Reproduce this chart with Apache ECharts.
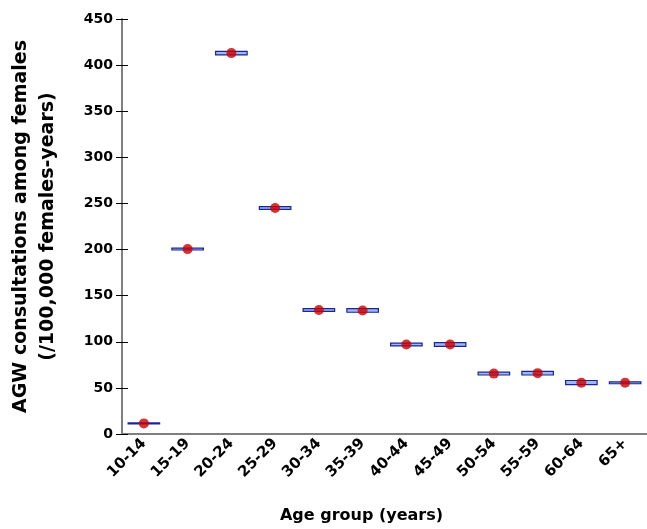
<!DOCTYPE html>
<html>
<head>
<meta charset="utf-8">
<script src="https://cdn.jsdelivr.net/npm/echarts@6/dist/echarts.min.js"></script>
<style>
  html, body { margin: 0; padding: 0; background: #fff; }
  #chart { width: 647px; height: 529px; }
</style>
</head>
<body>
<div id="chart"></div>
<script>
// age groups on the x axis
var ageGroups = ['10-14', '15-19', '20-24', '25-29', '30-34', '35-39',
                 '40-44', '45-49', '50-54', '55-59', '60-64', '65+'];
// consultation rate per 100,000 female-years
var rates  = [11.5, 200.5, 413, 245, 134.5, 134, 97, 97, 65.5, 66, 55.5, 55.5];
// confidence interval (low / high)
var ciLow  = [11, 199.5, 411, 243.5, 133, 132, 95.5, 95, 64, 64, 53.5, 54.5];
var ciHigh = [12, 201.5, 415, 246.5, 136, 136, 98.5, 99, 67, 68, 58, 56.5];

var font = 'DejaVu Sans';

var chart = echarts.init(document.getElementById('chart'));

var boxData = ageGroups.map(function (g, i) { return [i, ciLow[i], ciHigh[i]]; });
var dotData = ageGroups.map(function (g, i) { return [i, rates[i]]; });

chart.setOption({
  animation: false,
  grid: { left: 122, right: -3, top: 19, bottom: 93.5 },
  xAxis: [{
    type: 'category',
    data: ageGroups,
    position: 'bottom',
    name: 'Age group (years)',
    nameLocation: 'middle',
    nameGap: 74,
    nameTextStyle: { fontFamily: font, fontWeight: 'bold', fontSize: 16, color: '#000', padding: [0, 46, 0, 0] },
    axisLine: { lineStyle: { color: '#7f7f7f', width: 2 } },
    axisTick: { length: 6, lineStyle: { color: '#000' } },
    axisLabel: { rotate: 45, margin: 7, fontFamily: font, fontWeight: 'bold', fontSize: 15, color: '#000' },
    splitLine: { show: false }
  }, {
    type: 'category',
    data: ageGroups,
    position: 'bottom',
    offset: 0,
    axisLine: { show: false },
    axisTick: { inside: true, length: 5, lineStyle: { color: '#000' } },
    axisLabel: { show: false },
    splitLine: { show: false }
  }],
  yAxis: [{
    type: 'value',
    min: 0, max: 450, interval: 50,
    position: 'left',
    name: 'AGW consultations among females\n(/100,000 females-years)',
    nameLocation: 'middle',
    nameGap: 60,
    nameTextStyle: { fontFamily: font, fontWeight: 'bold', fontSize: 19, color: '#000', lineHeight: 27 },
    axisLine: { show: true, lineStyle: { color: '#7f7f7f', width: 2 } },
    axisTick: { show: true, length: 6, lineStyle: { color: '#000' } },
    axisLabel: { margin: 9, fontFamily: font, fontWeight: 'bold', fontSize: 14, color: '#000' },
    splitLine: { show: false }
  }, {
    type: 'value',
    min: 0, max: 450, interval: 50,
    position: 'left',
    offset: 0,
    axisLine: { show: false },
    axisTick: { show: true, inside: true, length: 6, lineStyle: { color: '#000' } },
    axisLabel: { show: false },
    splitLine: { show: false }
  }],
  series: [{
    type: 'custom',
    data: boxData,
    renderItem: function (params, api) {
      var lo = api.coord([api.value(0), api.value(1)]);
      var hi = api.coord([api.value(0), api.value(2)]);
      var w = api.size([1, 0])[0] * 0.72;
      return {
        type: 'rect',
        shape: { x: lo[0] - w / 2, y: hi[1], width: w, height: Math.max(lo[1] - hi[1], 1) },
        style: { fill: '#9cbaf0', stroke: '#1a2496', lineWidth: 1.2 }
      };
    },
    z: 2
  }, {
    type: 'scatter',
    data: dotData,
    symbol: 'circle',
    symbolSize: 10,
    itemStyle: { color: '#cc0000' },
    z: 3
  }]
});
</script>
</body>
</html>
